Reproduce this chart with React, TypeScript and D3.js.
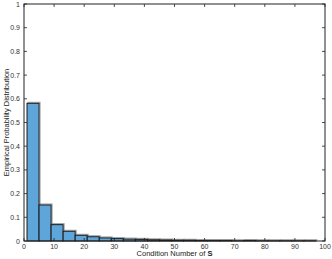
import { useEffect, useRef } from 'react';
import * as d3 from 'd3';

// histogram bins: start at 1, width 4
const binStart = 1;
const binWidth = 4;
const binValues = [
  0.581, 0.152, 0.069, 0.041, 0.024, 0.018, 0.013, 0.010, 0.008, 0.007, 0.005, 0.004,
  0.003, 0.003, 0.002, 0.002, 0.002, 0.001, 0.002, 0.001, 0.001, 0.001, 0.001, 0.001,
];
const xTicks = [0, 10, 20, 30, 40, 50, 60, 70, 80, 90, 100];
const yTicks = [0, 0.1, 0.2, 0.3, 0.4, 0.5, 0.6, 0.7, 0.8, 0.9, 1];

const W = 332;
const H = 259;
const margin = { left: 24, right: 7, top: 4, bottom: 18 };

const App = () => {
  const svgRef = useRef<SVGSVGElement>(null);

  useEffect(() => {
    const svg = d3.select(svgRef.current);
    svg.selectAll('*').remove();

    const x = d3.scaleLinear().domain([0, 100]).range([margin.left, W - margin.right]);
    const y = d3.scaleLinear().domain([0, 1]).range([H - margin.bottom, margin.top]);

    const bins = binValues.map((v, i) => ({ x0: binStart + i * binWidth, x1: binStart + (i + 1) * binWidth, v }));

    // faint shadow outline
    svg.append('g')
      .selectAll('rect')
      .data(bins)
      .join('rect')
      .attr('x', d => x(d.x0) + 1)
      .attr('y', d => y(d.v) - 1)
      .attr('width', d => x(d.x1) - x(d.x0))
      .attr('height', d => y(0) - y(d.v))
      .attr('fill', 'none')
      .attr('stroke', '#999')
      .attr('stroke-width', 1);

    svg.append('g')
      .selectAll('rect')
      .data(bins)
      .join('rect')
      .attr('x', d => x(d.x0))
      .attr('y', d => y(d.v))
      .attr('width', d => x(d.x1) - x(d.x0))
      .attr('height', d => y(0) - y(d.v))
      .attr('fill', '#5ea6da')
      .attr('stroke', '#1a1a1a')
      .attr('stroke-width', 1);

    const font = 'Liberation Sans, Arial, sans-serif';
    const axisColor = '#222';

    // box
    svg.append('rect')
      .attr('x', x(0))
      .attr('y', y(1))
      .attr('width', x(100) - x(0))
      .attr('height', y(0) - y(1))
      .attr('fill', 'none')
      .attr('stroke', axisColor)
      .attr('stroke-width', 1);

    const tl = 3;
    const tickG = svg.append('g').attr('stroke', axisColor).attr('stroke-width', 0.8);
    xTicks.forEach(t => {
      tickG.append('line').attr('x1', x(t)).attr('x2', x(t)).attr('y1', y(0)).attr('y2', y(0) - tl);
      tickG.append('line').attr('x1', x(t)).attr('x2', x(t)).attr('y1', y(1)).attr('y2', y(1) + tl);
    });
    yTicks.forEach(t => {
      tickG.append('line').attr('x1', x(0)).attr('x2', x(0) + tl).attr('y1', y(t)).attr('y2', y(t));
      tickG.append('line').attr('x1', x(100)).attr('x2', x(100) - tl).attr('y1', y(t)).attr('y2', y(t));
    });

    svg.append('g')
      .selectAll('text')
      .data(xTicks)
      .join('text')
      .attr('x', d => x(d))
      .attr('y', y(0) + 8)
      .attr('text-anchor', 'middle')
      .attr('font-family', font)
      .attr('font-size', 7)
      .attr('fill', '#333')
      .text(d => String(d));

    svg.append('g')
      .selectAll('text')
      .data(yTicks)
      .join('text')
      .attr('x', x(0) - 4)
      .attr('y', d => y(d) + 2.5)
      .attr('text-anchor', 'end')
      .attr('font-family', font)
      .attr('font-size', 7)
      .attr('fill', '#333')
      .text(d => String(d));

    const xl = svg.append('text')
      .attr('x', x(50))
      .attr('y', H - 3)
      .attr('text-anchor', 'middle')
      .attr('font-family', font)
      .attr('font-size', 7.5)
      .attr('fill', '#222');
    xl.append('tspan').text('Condition Number of  ');
    xl.append('tspan').attr('font-weight', 'bold').text('S');

    svg.append('text')
      .attr('transform', `translate(9,${(y(0) + y(1)) / 2}) rotate(-90)`)
      .attr('text-anchor', 'middle')
      .attr('font-family', font)
      .attr('font-size', 7.5)
      .attr('fill', '#222')
      .text('Empirical Probability Distribution');
  }, []);

  return (
    <svg
      ref={svgRef}
      width={W}
      height={H}
      style={{ position: 'absolute', left: 0, top: 0, background: '#fff' }}
    />
  );
};

export default App;
